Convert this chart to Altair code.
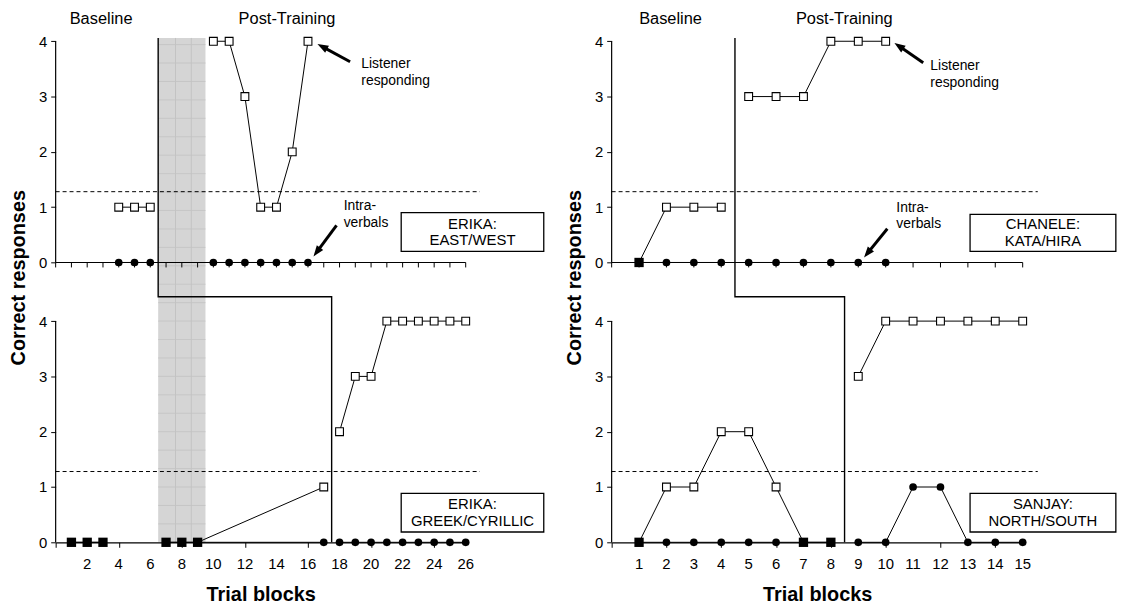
import math
import altair as alt
import pandas as pd

FONT = "Liberation Sans"

# ---------------- layout constants (data units) ----------------
OFFSET = 5.06      # upper panel baseline in shared y units
Y_TOP = 9.12       # top of plotting region
CRITERION = 1.28   # dashed criterion line
STEP_Y = 4.44      # height of the horizontal step of the phase line
Y_TICKS = [0, 1, 2, 3, 4]
HEIGHT = 508

# ---------------- Erika (left) ----------------
L_XMAX = 26
L_XLABELS = [2, 4, 6, 8, 10, 12, 14, 16, 18, 20, 22, 24, 26]
L_TOP_LISTENER_X = [[4, 5, 6], [10, 11, 12, 13, 14, 15, 16]]
L_TOP_LISTENER_Y = [[1, 1, 1], [4, 4, 3, 1, 1, 2, 4]]
L_TOP_INTRA_X = [[4, 5, 6], [10, 11, 12, 13, 14, 15, 16]]
L_TOP_INTRA_Y = [[0, 0, 0], [0, 0, 0, 0, 0, 0, 0]]
L_BOT_LISTENER_X = [[1, 2, 3], [7, 8, 9, 17], [18, 19, 20, 21, 22, 23, 24, 25, 26]]
L_BOT_LISTENER_Y = [[0, 0, 0], [0, 0, 0, 1], [2, 3, 3, 4, 4, 4, 4, 4, 4]]
L_BOT_INTRA_X = [[1, 2, 3], [7, 8, 9, 17], [18, 19, 20, 21, 22, 23, 24, 25, 26]]
L_BOT_INTRA_Y = [[0, 0, 0], [0, 0, 0, 0], [0, 0, 0, 0, 0, 0, 0, 0, 0]]
L_STEP_X = [6.5, 6.5, 17.5, 17.5]
L_STEP_Y = [Y_TOP, STEP_Y, STEP_Y, 0]
L_SHADE = [6.5, 9.5]
L_SHADE_VLINES = [7.6, 8.6]
L_PHASES = ["Baseline", "Post-Training"]
L_PHASE_X = [2.88, 14.67]
L_BOX_TEXT = ["ERIKA:\nEAST/WEST", "ERIKA:\nGREEK/CYRILLIC"]
L_BOX_X = [21.91, 30.95]
L_BOX_Y = [[5.26, 5.96], [0.186, 0.886]]
L_LISTENER_LABEL = [19.38, 8.49]
L_INTRA_LABEL = [18.26, 5.92]
L_ARROWS = [[18.67, 8.69, 16.6, 9.01], [17.81, 5.73, 16.35, 5.17]]
L_DASH_END = 26.9

# ---------------- Chanele / Sanjay (right) ----------------
R_XMAX = 15
R_XLABELS = [1, 2, 3, 4, 5, 6, 7, 8, 9, 10, 11, 12, 13, 14, 15]
R_TOP_LISTENER_X = [[1, 2, 3, 4], [5, 6, 7, 8, 9, 10]]
R_TOP_LISTENER_Y = [[0, 1, 1, 1], [3, 3, 3, 4, 4, 4]]
R_TOP_INTRA_X = [[1, 2, 3, 4], [5, 6, 7, 8, 9, 10]]
R_TOP_INTRA_Y = [[0, 0, 0, 0], [0, 0, 0, 0, 0, 0]]
R_BOT_LISTENER_X = [[1, 2, 3, 4, 5, 6, 7, 8], [9, 10, 11, 12, 13, 14, 15]]
R_BOT_LISTENER_Y = [[0, 1, 1, 2, 2, 1, 0, 0], [3, 4, 4, 4, 4, 4, 4]]
R_BOT_INTRA_X = [[1, 2, 3, 4, 5, 6, 7, 8], [9, 10, 11, 12, 13, 14, 15]]
R_BOT_INTRA_Y = [[0, 0, 0, 0, 0, 0, 0, 0], [0, 0, 1, 1, 0, 0, 0]]
R_STEP_X = [4.5, 4.5, 8.5, 8.5]
R_STEP_Y = [Y_TOP, STEP_Y, STEP_Y, 0]
R_PHASES = ["Baseline", "Post-Training"]
R_PHASE_X = [2.15, 8.49]
R_BOX_TEXT = ["CHANELE:\nKATA/HIRA", "SANJAY:\nNORTH/SOUTH"]
R_BOX_X = [13.08, 18.4]
R_BOX_Y = [[5.26, 5.93], [0.186, 0.886]]
R_LISTENER_LABEL = [11.63, 8.46]
R_INTRA_LABEL = [10.39, 5.9]
R_ARROWS = [[11.37, 8.67, 10.32, 9.03], [10.06, 5.67, 9.21, 5.15]]
R_DASH_END = 15.55

ARROW_HEAD = "M0,0L-0.8,2.2L0.8,2.2Z"


def series_frame(xs_top, ys_top, xs_bot, ys_bot, name):
    rows = []
    for panel, xs, ys, off in (("top", xs_top, ys_top, OFFSET), ("bot", xs_bot, ys_bot, 0.0)):
        for si, (sx, sy) in enumerate(zip(xs, ys)):
            for x, y in zip(sx, sy):
                rows.append({"x": x, "raw": y, "y": y + off,
                             "seg": f"{name}-{panel}-{si}"})
    return pd.DataFrame(rows)


def side(cfg):
    xmax, width = cfg["xmax"], cfg["width"]
    px_x = width / xmax
    px_y = HEIGHT / Y_TOP
    xs = alt.Scale(domain=[0, xmax], nice=False, zero=False)
    ys = alt.Scale(domain=[0, Y_TOP], nice=False, zero=False)

    def X(f="x"):
        return alt.X(f"{f}:Q", scale=xs)

    def Y(f="y"):
        return alt.Y(f"{f}:Q", scale=ys)

    layers = []

    # axis layer (vertical axis lines) carrying both axes
    yvals = Y_TICKS + [OFFSET + v for v in Y_TICKS]
    axis_df = pd.DataFrame({"x": [0, 0], "y": [0, OFFSET], "y2": [4, OFFSET + 4]})
    axis_layer = alt.Chart(axis_df).mark_rule(color="black", strokeWidth=1.2).encode(
        x=alt.X("x:Q", scale=xs, title="Trial blocks",
                axis=alt.Axis(values=list(range(xmax + 1)), labels=False,
                              grid=False, zindex=1, tickSize=5,
                              titlePadding=37, domainColor="black", domainWidth=1.2)),
        y=alt.Y("y:Q", scale=ys, title="Correct responses",
                axis=alt.Axis(values=yvals, domain=False, grid=False, tickSize=5,
                              labelPadding=4, titlePadding=10, titleY=241,
                              labelOverlap=False,
                              labelExpr=f"datum.value > 4.5 ? '' + round(datum.value - {OFFSET}) : '' + round(datum.value)")),
        y2="y2:Q")

    # shaded training band
    if cfg.get("shade"):
        s0, s1 = cfg["shade"]
        layers.append(alt.Chart(pd.DataFrame({"x": [s0], "x2": [s1], "y": [0], "y2": [Y_TOP]}))
                      .mark_rect(color="#d5d5d5").encode(x=X(), x2="x2:Q", y=Y(), y2="y2:Q"))
        hl = [k / 3 for k in range(1, int(Y_TOP * 3) + 1)]
        layers.append(alt.Chart(pd.DataFrame({"x": [s0] * len(hl), "x2": [s1] * len(hl), "y": hl}))
                      .mark_rule(color="#c3c3c3", strokeWidth=0.8).encode(x=X(), x2="x2:Q", y=Y()))
        layers.append(alt.Chart(pd.DataFrame({"x": cfg["shade_v"], "y": [0] * 2, "y2": [Y_TOP] * 2}))
                      .mark_rule(color="#c3c3c3", strokeWidth=1).encode(x=X(), y=Y(), y2="y2:Q"))

    layers.append(axis_layer)

    # x tick labels of the lower panel
    xl = pd.DataFrame({"x": cfg["xlabels"], "y": [0] * len(cfg["xlabels"]),
                       "t": [str(v) for v in cfg["xlabels"]]})
    layers.append(alt.Chart(xl).mark_text(font=FONT, fontSize=15, color="black",
                                          baseline="top", dy=15)
                  .encode(x=X(), y=Y(), text="t:N"))

    # upper panel x-axis line and ticks
    layers.append(alt.Chart(pd.DataFrame({"x": [0], "x2": [xmax], "y": [OFFSET]}))
                  .mark_rule(color="black", strokeWidth=1.2).encode(x=X(), x2="x2:Q", y=Y()))
    tx = list(range(xmax + 1))
    layers.append(alt.Chart(pd.DataFrame({"x": tx, "y": [OFFSET] * len(tx),
                                          "y2": [OFFSET - 5 / px_y] * len(tx)}))
                  .mark_rule(color="black", strokeWidth=1).encode(x=X(), y=Y(), y2="y2:Q"))

    # criterion dashed lines
    layers.append(alt.Chart(pd.DataFrame({"x": [0, 0], "x2": [cfg["dash_end"]] * 2,
                                          "y": [CRITERION, CRITERION + OFFSET]}))
                  .mark_rule(color="black", strokeWidth=1, strokeDash=[4, 3])
                  .encode(x=X(), x2="x2:Q", y=Y()))

    # phase change line
    layers.append(alt.Chart(pd.DataFrame({"x": cfg["step_x"], "y": cfg["step_y"],
                                          "o": list(range(4))}))
                  .mark_line(color="black", strokeWidth=1.4)
                  .encode(x=X(), y=Y(), order="o:Q"))

    listener = cfg["listener"]
    intra = cfg["intra"]

    # data lines
    for df in (intra, listener):
        layers.append(alt.Chart(df).mark_line(color="black", strokeWidth=1)
                      .encode(x=X(), y=Y(), detail="seg:N"))

    # markers
    layers.append(alt.Chart(intra).mark_point(shape="circle", filled=True, color="black",
                                              size=60, opacity=1).encode(x=X(), y=Y()))
    layers.append(alt.Chart(listener[listener["raw"] > 0])
                  .mark_point(shape="square", filled=True, fill="white", stroke="black",
                              strokeWidth=1.1, size=62, opacity=1).encode(x=X(), y=Y()))
    layers.append(alt.Chart(listener[listener["raw"] == 0])
                  .mark_point(shape="square", filled=True, color="black", size=88, opacity=1)
                  .encode(x=X(), y=Y()))

    # participant boxes
    bx0, bx1 = cfg["box_x"]
    boxes = pd.DataFrame({
        "x": [bx0, bx0], "x2": [bx1, bx1],
        "y": [b[0] for b in cfg["box_y"]], "y2": [b[1] for b in cfg["box_y"]],
        "t": cfg["box_text"],
    })
    boxes["cx"] = (boxes["x"] + boxes["x2"]) / 2
    boxes["cy"] = (boxes["y"] + boxes["y2"]) / 2
    layers.append(alt.Chart(boxes).mark_rect(fill="white", stroke="black", strokeWidth=1.3)
                  .encode(x=X(), x2="x2:Q", y=Y(), y2="y2:Q"))
    layers.append(alt.Chart(boxes).mark_text(font=FONT, fontSize=15, lineBreak="\n",
                                             lineHeight=17, dy=-8.5, color="black",
                                             baseline="middle")
                  .encode(x=X("cx"), y=Y("cy"), text="t:N"))

    # annotations
    ann = pd.DataFrame({"x": [cfg["listener_label"][0], cfg["intra_label"][0]],
                        "y": [cfg["listener_label"][1], cfg["intra_label"][1]],
                        "t": ["Listener\nresponding", "Intra-\nverbals"]})
    layers.append(alt.Chart(ann).mark_text(font=FONT, fontSize=14, lineBreak="\n", lineHeight=17,
                                           dy=-8.5, align="left", baseline="middle",
                                           color="black")
                  .encode(x=X(), y=Y(), text="t:N"))

    # arrows
    rows = []
    for tx0, ty0, hx, hy in cfg["arrows"]:
        dx = (hx - tx0) * px_x
        dy = -(hy - ty0) * px_y
        ln = math.hypot(dx, dy)
        ang = math.degrees(math.atan2(dx, -dy)) % 360
        ex = hx - (dx / ln) * 6 / px_x
        ey = hy + (dy / ln) * 6 / px_y
        rows.append({"x": tx0, "y": ty0, "x2": ex, "y2": ey, "hx": hx, "hy": hy, "a": ang})
    arr = pd.DataFrame(rows)
    layers.append(alt.Chart(arr).mark_rule(color="black", strokeWidth=3)
                  .encode(x=X(), y=Y(), x2="x2:Q", y2="y2:Q"))
    layers.append(alt.Chart(arr).mark_point(shape=ARROW_HEAD, filled=True, color="black",
                                            size=100, opacity=1)
                  .encode(x=X("hx"), y=Y("hy"), angle=alt.Angle("a:Q", scale=None)))

    # phase labels
    ph = pd.DataFrame({"x": cfg["phase_x"], "y": [9.47, 9.47], "t": cfg["phases"]})
    layers.append(alt.Chart(ph).mark_text(font=FONT, fontSize=16.5, color="black",
                                          baseline="middle")
                  .encode(x=X(), y=Y(), text="t:N"))

    return alt.layer(*layers).properties(width=width, height=HEIGHT)


left_cfg = {
    "xmax": L_XMAX, "width": 413, "xlabels": L_XLABELS,
    "shade": L_SHADE, "shade_v": L_SHADE_VLINES,
    "dash_end": L_DASH_END, "step_x": L_STEP_X, "step_y": L_STEP_Y,
    "listener": series_frame(L_TOP_LISTENER_X, L_TOP_LISTENER_Y, L_BOT_LISTENER_X, L_BOT_LISTENER_Y, "L"),
    "intra": series_frame(L_TOP_INTRA_X, L_TOP_INTRA_Y, L_BOT_INTRA_X, L_BOT_INTRA_Y, "I"),
    "box_x": L_BOX_X, "box_y": L_BOX_Y, "box_text": L_BOX_TEXT,
    "listener_label": L_LISTENER_LABEL, "intra_label": L_INTRA_LABEL,
    "arrows": L_ARROWS, "phases": L_PHASES, "phase_x": L_PHASE_X,
}
right_cfg = {
    "xmax": R_XMAX, "width": 414, "xlabels": R_XLABELS,
    "dash_end": R_DASH_END, "step_x": R_STEP_X, "step_y": R_STEP_Y,
    "listener": series_frame(R_TOP_LISTENER_X, R_TOP_LISTENER_Y, R_BOT_LISTENER_X, R_BOT_LISTENER_Y, "L"),
    "intra": series_frame(R_TOP_INTRA_X, R_TOP_INTRA_Y, R_BOT_INTRA_X, R_BOT_INTRA_Y, "I"),
    "box_x": R_BOX_X, "box_y": R_BOX_Y, "box_text": R_BOX_TEXT,
    "listener_label": R_LISTENER_LABEL, "intra_label": R_INTRA_LABEL,
    "arrows": R_ARROWS, "phases": R_PHASES, "phase_x": R_PHASE_X,
}

chart = alt.hconcat(side(left_cfg), side(right_cfg), spacing=147, bounds="flush").properties(
    padding=0, background="white"
).configure_view(stroke=None).configure_axis(
    labelFont=FONT, labelFontSize=15, labelColor="black",
    titleFont=FONT, titleFontSize=20, titleFontWeight="bold", titleColor="black",
    tickColor="black", tickWidth=1,
)

chart.save("out.html", embed_options={"renderer": "svg", "actions": False})
